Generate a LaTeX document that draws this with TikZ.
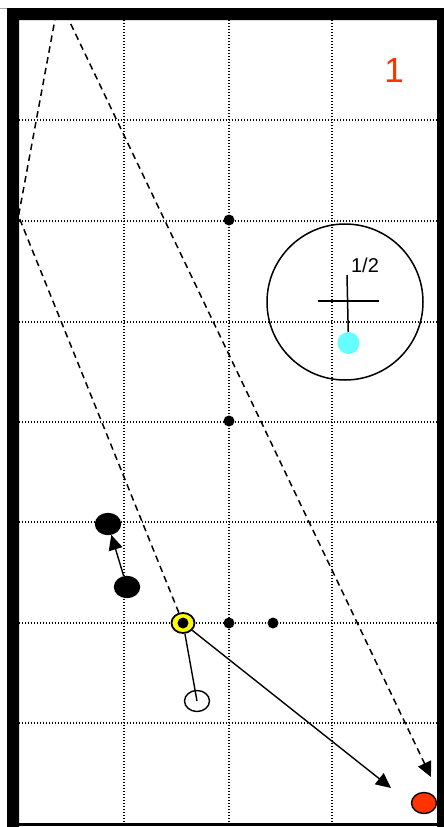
\documentclass[tikz,border=0pt]{standalone}
\usepackage{fontspec}
\setmainfont{Liberation Sans}
\usetikzlibrary{shapes.geometric,arrows.meta}
\definecolor{redstone}{HTML}{FF3300}
\definecolor{cyandot}{HTML}{66FFFF}
\definecolor{yelstone}{HTML}{FFFF00}
\tikzset{
  gridline/.style={line width=1.3pt, dash pattern=on 1.4pt off 1.6pt},
  pathline/.style={line width=1.5pt, dash pattern=on 6.5pt off 4.5pt},
  shotline/.style={line width=1.4pt},
  stone/.style={ellipse, draw, line width=1.4pt, inner sep=0pt, minimum width=25pt, minimum height=21pt},
  dotmark/.style={circle, fill=black, inner sep=0pt, minimum size=11pt},
  tip/.style={-{Triangle[length=15pt,width=14pt]}}
}
\begin{document}
\begin{tikzpicture}[x=1pt,y=-1pt]
\useasboundingbox (0,0) rectangle (444,827);
\fill[white] (0,0) rectangle (444,827);
% grid
\foreach \gx in {124,229,332} \draw[gridline] (\gx,20) -- (\gx,822);
\foreach \gy in {120,221,322,422,522,623,723} \draw[gridline] (19,\gy) -- (437,\gy);
% circle and cross
\node[circle, draw, line width=1.5pt, minimum size=156pt, inner sep=0pt] (ring) at (345,302) {};
\node[circle, fill=cyandot, inner sep=0pt, minimum size=22pt] (cy) at (348.5,343) {};
\coordinate (ch1) at (318,301);
\coordinate (ch2) at (379,301);
\coordinate (cv1) at (347,275);
\draw[line width=1.5pt] (ch1) -- (ch2);
\draw[line width=1.5pt] (cv1) -- (cy);
\node (half) at (365,265) {\fontsize{20pt}{22pt}\selectfont 1/2};
% number
\node[text=redstone] (num) at (394,70) {\fontsize{35pt}{37pt}\selectfont 1};
% small dots
\node[dotmark] (d1) at (229,220) {};
\node[dotmark] (d2) at (229,421) {};
\node[dotmark] (d3) at (229,623) {};
\node[dotmark] (d4) at (273,623) {};
% stones
\node[stone, fill=black] (b1) at (108,524) {};
\node[stone, fill=black] (b2) at (127,587) {};
\node[stone, fill=yelstone, line width=1.8pt, minimum width=23pt, minimum height=20pt] (ys) at (183,623) {};
\node[dotmark, minimum size=11pt] (yc) at (183,623) {};
\node[stone] (ws) at (197,701) {};
\node[stone, fill=redstone] (rs) at (424,803) {};
% path lines
\coordinate (w1) at (18.5,216);
\coordinate (t1) at (56,14);
\coordinate (t2) at (66,14);
\coordinate (e1) at (431,777);
\coordinate (a2) at (391,788);
\draw[pathline] (ys) -- (w1) -- (t1);
\draw[pathline, tip] (t2) -- (e1);
\draw[shotline, tip] (b2) -- (b1);
\draw[shotline, tip] (ys) -- (a2);
\draw[shotline] (ys) -- (ws.center);
% frame
\fill[black, even odd rule] (7,8) rectangle (444,827) (19,20) rectangle (437,827);
\fill[black] (19,822.5) rectangle (437,825.8);
\draw[gray!70, line width=0.8pt] (0,8.4) -- (7,8.4);
\end{tikzpicture}
\end{document}
